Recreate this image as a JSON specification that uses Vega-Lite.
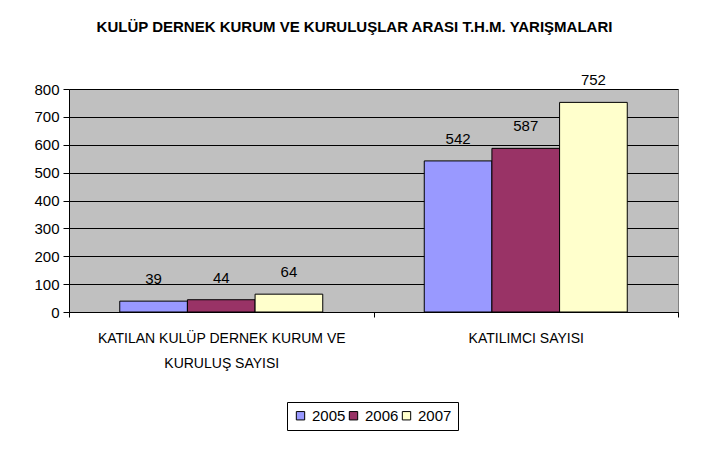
{
  "$schema": "https://vega.github.io/schema/vega-lite/v6.json",
  "autosize": "none",
  "width": 609,
  "height": 223,
  "padding": {"left": 69, "top": 89, "right": 35, "bottom": 140},
  "background": "white",
  "title": {
    "text": "KULÜP DERNEK KURUM VE KURULUŞLAR ARASI T.H.M. YARIŞMALARI",
    "font": "Liberation Sans",
    "fontSize": 15,
    "fontWeight": "bold",
    "color": "black",
    "anchor": "middle",
    "offset": 38,
    "dx": -19
  },
  "data": {
    "values": [
      {"kategori": "KATILAN KULÜP DERNEK KURUM VE KURULUŞ SAYISI", "yil": "2005", "deger": 39},
      {"kategori": "KATILAN KULÜP DERNEK KURUM VE KURULUŞ SAYISI", "yil": "2006", "deger": 44},
      {"kategori": "KATILAN KULÜP DERNEK KURUM VE KURULUŞ SAYISI", "yil": "2007", "deger": 64},
      {"kategori": "KATILIMCI SAYISI", "yil": "2005", "deger": 542},
      {"kategori": "KATILIMCI SAYISI", "yil": "2006", "deger": 587},
      {"kategori": "KATILIMCI SAYISI", "yil": "2007", "deger": 752}
    ]
  },
  "encoding": {
    "x": {
      "field": "kategori",
      "type": "nominal",
      "sort": null,
      "scale": {"paddingInner": 0, "paddingOuter": 0},
      "axis": {
        "title": null,
        "labelAngle": 0,
        "labelFont": "Liberation Sans",
        "labelFontSize": 14,
        "labelColor": "black",
        "labelLineHeight": 25,
        "labelPadding": 14,
        "labelLimit": 0,
        "labelExpr": "datum.label == 'KATILAN KULÜP DERNEK KURUM VE KURULUŞ SAYISI' ? ['KATILAN KULÜP DERNEK KURUM VE', 'KURULUŞ SAYISI'] : datum.label",
        "tickBand": "extent",
        "tickSize": 5,
        "tickColor": "black",
        "domainColor": "black",
        "grid": false
      }
    },
    "xOffset": {
      "field": "yil",
      "type": "nominal",
      "scale": {"paddingInner": 0, "paddingOuter": 0.75}
    },
    "y": {
      "field": "deger",
      "type": "quantitative",
      "scale": {"domain": [0, 800], "nice": false},
      "axis": {
        "title": null,
        "values": [0, 100, 200, 300, 400, 500, 600, 700, 800],
        "labelFont": "Liberation Sans",
        "labelFontSize": 15,
        "labelColor": "black",
        "labelPadding": 4,
        "tickSize": 6,
        "tickColor": "black",
        "domainColor": "black",
        "grid": true,
        "gridColor": "black",
        "gridOpacity": 1,
        "gridWidth": 1
      }
    }
  },
  "layer": [
    {
      "mark": {"type": "bar", "stroke": "black", "strokeWidth": 1},
      "encoding": {
        "color": {
          "field": "yil",
          "type": "nominal",
          "scale": {"domain": ["2005", "2006", "2007"], "range": ["#9999FF", "#993366", "#FFFFCC"]},
          "legend": {
            "title": null,
            "orient": "none",
            "legendX": 218,
            "legendY": 313,
            "direction": "horizontal",
            "symbolType": "square",
            "symbolSize": 70,
            "symbolStrokeColor": "black",
            "symbolStrokeWidth": 1,
            "symbolOpacity": 1,
            "labelFont": "Liberation Sans",
            "labelFontSize": 15,
            "labelColor": "black",
            "labelOffset": 4,
            "columnPadding": 0,
            "padding": 6,
            "strokeColor": "black",
            "fillColor": "white"
          }
        }
      }
    },
    {
      "mark": {"type": "text", "baseline": "alphabetic", "dy": -17, "font": "Liberation Sans", "fontSize": 15, "color": "black"},
      "encoding": {"text": {"field": "deger", "type": "quantitative"}}
    }
  ],
  "config": {
    "view": {"fill": "#C0C0C0", "stroke": "#808080", "strokeWidth": 1}
  }
}
